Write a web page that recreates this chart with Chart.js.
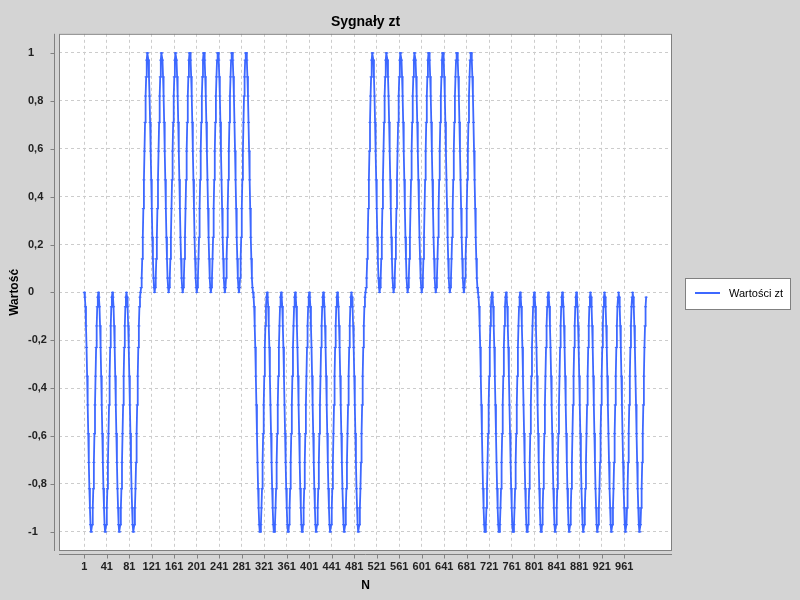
<!DOCTYPE html>
<html lang="pl">
<head>
<meta charset="utf-8">
<title>Sygnały zt</title>
<script src="https://cdn.jsdelivr.net/npm/chart.js@4.4.1/dist/chart.umd.min.js"></script>
<style>
  html, body { margin: 0; padding: 0; background: #d4d4d4; }
  canvas { display: block; }
</style>
</head>
<body>
<canvas id="wykres" width="800" height="600"></canvas>
<script>
// Wartości sygnału zt (1000 próbek, po 25 na jeden "garb")
const wartosci = [
  // N 1-100
  0, -0.02, -0.06, -0.14, -0.23, -0.35, -0.47, -0.59, -0.71, -0.82, -0.9, -0.97, -1, -1, -0.97, -0.9, -0.82, -0.71, -0.59, -0.47, -0.35, -0.23, -0.14, -0.06, -0.02,
  0, -0.02, -0.06, -0.14, -0.23, -0.35, -0.47, -0.59, -0.71, -0.82, -0.9, -0.97, -1, -1, -0.97, -0.9, -0.82, -0.71, -0.59, -0.47, -0.35, -0.23, -0.14, -0.06, -0.02,
  0, -0.02, -0.06, -0.14, -0.23, -0.35, -0.47, -0.59, -0.71, -0.82, -0.9, -0.97, -1, -1, -0.97, -0.9, -0.82, -0.71, -0.59, -0.47, -0.35, -0.23, -0.14, -0.06, -0.02,
  0, -0.02, -0.06, -0.14, -0.23, -0.35, -0.47, -0.59, -0.71, -0.82, -0.9, -0.97, -1, -1, -0.97, -0.9, -0.82, -0.71, -0.59, -0.47, -0.35, -0.23, -0.14, -0.06, -0.02,
  // N 101-300
  0, 0.02, 0.06, 0.14, 0.23, 0.35, 0.47, 0.59, 0.71, 0.82, 0.9, 0.97, 1, 1, 0.97, 0.9, 0.82, 0.71, 0.59, 0.47, 0.35, 0.23, 0.14, 0.06, 0.02,
  0, 0.02, 0.06, 0.14, 0.23, 0.35, 0.47, 0.59, 0.71, 0.82, 0.9, 0.97, 1, 1, 0.97, 0.9, 0.82, 0.71, 0.59, 0.47, 0.35, 0.23, 0.14, 0.06, 0.02,
  0, 0.02, 0.06, 0.14, 0.23, 0.35, 0.47, 0.59, 0.71, 0.82, 0.9, 0.97, 1, 1, 0.97, 0.9, 0.82, 0.71, 0.59, 0.47, 0.35, 0.23, 0.14, 0.06, 0.02,
  0, 0.02, 0.06, 0.14, 0.23, 0.35, 0.47, 0.59, 0.71, 0.82, 0.9, 0.97, 1, 1, 0.97, 0.9, 0.82, 0.71, 0.59, 0.47, 0.35, 0.23, 0.14, 0.06, 0.02,
  0, 0.02, 0.06, 0.14, 0.23, 0.35, 0.47, 0.59, 0.71, 0.82, 0.9, 0.97, 1, 1, 0.97, 0.9, 0.82, 0.71, 0.59, 0.47, 0.35, 0.23, 0.14, 0.06, 0.02,
  0, 0.02, 0.06, 0.14, 0.23, 0.35, 0.47, 0.59, 0.71, 0.82, 0.9, 0.97, 1, 1, 0.97, 0.9, 0.82, 0.71, 0.59, 0.47, 0.35, 0.23, 0.14, 0.06, 0.02,
  0, 0.02, 0.06, 0.14, 0.23, 0.35, 0.47, 0.59, 0.71, 0.82, 0.9, 0.97, 1, 1, 0.97, 0.9, 0.82, 0.71, 0.59, 0.47, 0.35, 0.23, 0.14, 0.06, 0.02,
  0, 0.02, 0.06, 0.14, 0.23, 0.35, 0.47, 0.59, 0.71, 0.82, 0.9, 0.97, 1, 1, 0.97, 0.9, 0.82, 0.71, 0.59, 0.47, 0.35, 0.23, 0.14, 0.06, 0.02,
  // N 301-500
  0, -0.02, -0.06, -0.14, -0.23, -0.35, -0.47, -0.59, -0.71, -0.82, -0.9, -0.97, -1, -1, -0.97, -0.9, -0.82, -0.71, -0.59, -0.47, -0.35, -0.23, -0.14, -0.06, -0.02,
  0, -0.02, -0.06, -0.14, -0.23, -0.35, -0.47, -0.59, -0.71, -0.82, -0.9, -0.97, -1, -1, -0.97, -0.9, -0.82, -0.71, -0.59, -0.47, -0.35, -0.23, -0.14, -0.06, -0.02,
  0, -0.02, -0.06, -0.14, -0.23, -0.35, -0.47, -0.59, -0.71, -0.82, -0.9, -0.97, -1, -1, -0.97, -0.9, -0.82, -0.71, -0.59, -0.47, -0.35, -0.23, -0.14, -0.06, -0.02,
  0, -0.02, -0.06, -0.14, -0.23, -0.35, -0.47, -0.59, -0.71, -0.82, -0.9, -0.97, -1, -1, -0.97, -0.9, -0.82, -0.71, -0.59, -0.47, -0.35, -0.23, -0.14, -0.06, -0.02,
  0, -0.02, -0.06, -0.14, -0.23, -0.35, -0.47, -0.59, -0.71, -0.82, -0.9, -0.97, -1, -1, -0.97, -0.9, -0.82, -0.71, -0.59, -0.47, -0.35, -0.23, -0.14, -0.06, -0.02,
  0, -0.02, -0.06, -0.14, -0.23, -0.35, -0.47, -0.59, -0.71, -0.82, -0.9, -0.97, -1, -1, -0.97, -0.9, -0.82, -0.71, -0.59, -0.47, -0.35, -0.23, -0.14, -0.06, -0.02,
  0, -0.02, -0.06, -0.14, -0.23, -0.35, -0.47, -0.59, -0.71, -0.82, -0.9, -0.97, -1, -1, -0.97, -0.9, -0.82, -0.71, -0.59, -0.47, -0.35, -0.23, -0.14, -0.06, -0.02,
  0, -0.02, -0.06, -0.14, -0.23, -0.35, -0.47, -0.59, -0.71, -0.82, -0.9, -0.97, -1, -1, -0.97, -0.9, -0.82, -0.71, -0.59, -0.47, -0.35, -0.23, -0.14, -0.06, -0.02,
  // N 501-700
  0, 0.02, 0.06, 0.14, 0.23, 0.35, 0.47, 0.59, 0.71, 0.82, 0.9, 0.97, 1, 1, 0.97, 0.9, 0.82, 0.71, 0.59, 0.47, 0.35, 0.23, 0.14, 0.06, 0.02,
  0, 0.02, 0.06, 0.14, 0.23, 0.35, 0.47, 0.59, 0.71, 0.82, 0.9, 0.97, 1, 1, 0.97, 0.9, 0.82, 0.71, 0.59, 0.47, 0.35, 0.23, 0.14, 0.06, 0.02,
  0, 0.02, 0.06, 0.14, 0.23, 0.35, 0.47, 0.59, 0.71, 0.82, 0.9, 0.97, 1, 1, 0.97, 0.9, 0.82, 0.71, 0.59, 0.47, 0.35, 0.23, 0.14, 0.06, 0.02,
  0, 0.02, 0.06, 0.14, 0.23, 0.35, 0.47, 0.59, 0.71, 0.82, 0.9, 0.97, 1, 1, 0.97, 0.9, 0.82, 0.71, 0.59, 0.47, 0.35, 0.23, 0.14, 0.06, 0.02,
  0, 0.02, 0.06, 0.14, 0.23, 0.35, 0.47, 0.59, 0.71, 0.82, 0.9, 0.97, 1, 1, 0.97, 0.9, 0.82, 0.71, 0.59, 0.47, 0.35, 0.23, 0.14, 0.06, 0.02,
  0, 0.02, 0.06, 0.14, 0.23, 0.35, 0.47, 0.59, 0.71, 0.82, 0.9, 0.97, 1, 1, 0.97, 0.9, 0.82, 0.71, 0.59, 0.47, 0.35, 0.23, 0.14, 0.06, 0.02,
  0, 0.02, 0.06, 0.14, 0.23, 0.35, 0.47, 0.59, 0.71, 0.82, 0.9, 0.97, 1, 1, 0.97, 0.9, 0.82, 0.71, 0.59, 0.47, 0.35, 0.23, 0.14, 0.06, 0.02,
  0, 0.02, 0.06, 0.14, 0.23, 0.35, 0.47, 0.59, 0.71, 0.82, 0.9, 0.97, 1, 1, 0.97, 0.9, 0.82, 0.71, 0.59, 0.47, 0.35, 0.23, 0.14, 0.06, 0.02,
  // N 701-1000
  0, -0.02, -0.06, -0.14, -0.23, -0.35, -0.47, -0.59, -0.71, -0.82, -0.9, -0.97, -1, -1, -0.97, -0.9, -0.82, -0.71, -0.59, -0.47, -0.35, -0.23, -0.14, -0.06, -0.02,
  0, -0.02, -0.06, -0.14, -0.23, -0.35, -0.47, -0.59, -0.71, -0.82, -0.9, -0.97, -1, -1, -0.97, -0.9, -0.82, -0.71, -0.59, -0.47, -0.35, -0.23, -0.14, -0.06, -0.02,
  0, -0.02, -0.06, -0.14, -0.23, -0.35, -0.47, -0.59, -0.71, -0.82, -0.9, -0.97, -1, -1, -0.97, -0.9, -0.82, -0.71, -0.59, -0.47, -0.35, -0.23, -0.14, -0.06, -0.02,
  0, -0.02, -0.06, -0.14, -0.23, -0.35, -0.47, -0.59, -0.71, -0.82, -0.9, -0.97, -1, -1, -0.97, -0.9, -0.82, -0.71, -0.59, -0.47, -0.35, -0.23, -0.14, -0.06, -0.02,
  0, -0.02, -0.06, -0.14, -0.23, -0.35, -0.47, -0.59, -0.71, -0.82, -0.9, -0.97, -1, -1, -0.97, -0.9, -0.82, -0.71, -0.59, -0.47, -0.35, -0.23, -0.14, -0.06, -0.02,
  0, -0.02, -0.06, -0.14, -0.23, -0.35, -0.47, -0.59, -0.71, -0.82, -0.9, -0.97, -1, -1, -0.97, -0.9, -0.82, -0.71, -0.59, -0.47, -0.35, -0.23, -0.14, -0.06, -0.02,
  0, -0.02, -0.06, -0.14, -0.23, -0.35, -0.47, -0.59, -0.71, -0.82, -0.9, -0.97, -1, -1, -0.97, -0.9, -0.82, -0.71, -0.59, -0.47, -0.35, -0.23, -0.14, -0.06, -0.02,
  0, -0.02, -0.06, -0.14, -0.23, -0.35, -0.47, -0.59, -0.71, -0.82, -0.9, -0.97, -1, -1, -0.97, -0.9, -0.82, -0.71, -0.59, -0.47, -0.35, -0.23, -0.14, -0.06, -0.02,
  0, -0.02, -0.06, -0.14, -0.23, -0.35, -0.47, -0.59, -0.71, -0.82, -0.9, -0.97, -1, -1, -0.97, -0.9, -0.82, -0.71, -0.59, -0.47, -0.35, -0.23, -0.14, -0.06, -0.02,
  0, -0.02, -0.06, -0.14, -0.23, -0.35, -0.47, -0.59, -0.71, -0.82, -0.9, -0.97, -1, -1, -0.97, -0.9, -0.82, -0.71, -0.59, -0.47, -0.35, -0.23, -0.14, -0.06, -0.02,
  0, -0.02, -0.06, -0.14, -0.23, -0.35, -0.47, -0.59, -0.71, -0.82, -0.9, -0.97, -1, -1, -0.97, -0.9, -0.82, -0.71, -0.59, -0.47, -0.35, -0.23, -0.14, -0.06, -0.02,
  0, -0.02, -0.06, -0.14, -0.23, -0.35, -0.47, -0.59, -0.71, -0.82, -0.9, -0.97, -1, -1, -0.97, -0.9, -0.82, -0.71, -0.59, -0.47, -0.35, -0.23, -0.14, -0.06, -0.02
];

// Numery próbek N = 1..1000
const numery = wartosci.map((_, i) => i + 1);

// Etykiety osi
const etykietyX = [1, 41, 81, 121, 161, 201, 241, 281, 321, 361, 401, 441, 481,
                   521, 561, 601, 641, 681, 721, 761, 801, 841, 881, 921, 961];
const etykietyY = [-1, -0.8, -0.6, -0.4, -0.2, 0, 0.2, 0.4, 0.6, 0.8, 1];

const nazwaSerii = 'Wartości zt';
const kolorSerii = '#3d68ff';
const czcionka = '"Liberation Sans", Arial, sans-serif';

Chart.defaults.font.family = czcionka;

// Tło, ramka wykresu, osie przesunięte od ramki, tytuły osi i legenda
const ramka = {
  id: 'ramka',
  beforeDraw(chart) {
    const { ctx, chartArea: a } = chart;
    ctx.save();
    ctx.fillStyle = '#d4d4d4';
    ctx.fillRect(0, 0, chart.width, chart.height);
    ctx.fillStyle = '#ffffff';
    ctx.fillRect(a.left, a.top, a.right - a.left, a.bottom - a.top);
    ctx.restore();
  },
  afterDraw(chart) {
    const { ctx, chartArea: a, scales } = chart;
    ctx.save();
    ctx.strokeStyle = '#808080';
    ctx.lineWidth = 1;
    ctx.strokeRect(a.left + 0.5, a.top + 0.5, a.right - a.left - 1, a.bottom - a.top - 1);

    ctx.beginPath();
    // oś Y
    const xOsi = Math.round(a.left) - 4.5;
    ctx.moveTo(xOsi, a.top);
    ctx.lineTo(xOsi, a.bottom);
    etykietyY.forEach(function (v) {
      const y = Math.round(scales.y.getPixelForValue(v)) + 0.5;
      ctx.moveTo(xOsi - 4, y);
      ctx.lineTo(xOsi, y);
    });
    // oś X
    const yOsi = Math.round(a.bottom) + 3.5;
    ctx.moveTo(a.left, yOsi);
    ctx.lineTo(a.right, yOsi);
    etykietyX.forEach(function (v) {
      const x = Math.round(scales.x.getPixelForValue(v)) + 0.5;
      ctx.moveTo(x, yOsi);
      ctx.lineTo(x, yOsi + 4);
    });
    ctx.stroke();

    // tytuły osi
    ctx.fillStyle = '#000000';
    ctx.font = 'bold 12px ' + czcionka;
    ctx.textAlign = 'center';
    ctx.textBaseline = 'middle';
    ctx.fillText('N', (a.left + a.right) / 2, 586);
    ctx.save();
    ctx.translate(15, (a.top + a.bottom) / 2);
    ctx.rotate(-Math.PI / 2);
    ctx.fillText('Wartość', 0, 0);
    ctx.restore();

    // legenda
    const lx = 685.5, ly = 278.5, lw = 105, lh = 31;
    ctx.fillStyle = '#ffffff';
    ctx.fillRect(lx, ly, lw, lh);
    ctx.strokeStyle = '#808080';
    ctx.strokeRect(lx, ly, lw, lh);
    ctx.strokeStyle = kolorSerii;
    ctx.lineWidth = 2;
    ctx.beginPath();
    ctx.moveTo(695, 293);
    ctx.lineTo(720, 293);
    ctx.stroke();
    ctx.fillStyle = '#000000';
    ctx.font = '11px ' + czcionka;
    ctx.textAlign = 'left';
    ctx.fillText(nazwaSerii, 729, 293.5);
    ctx.restore();
  }
};

new Chart(document.getElementById('wykres'), {
  type: 'line',
  data: {
    datasets: [{
      label: nazwaSerii,
      data: numery.map((n, i) => ({ x: n, y: wartosci[i] })),
      borderColor: kolorSerii,
      backgroundColor: kolorSerii,
      borderWidth: 1.8,
      borderJoinStyle: 'round',
      borderCapStyle: 'round',
      tension: 0,
      pointStyle: 'line',
      pointRadius: 1.5,
      pointBorderWidth: 1,
      pointBorderColor: kolorSerii,
      pointHoverRadius: 0,
      fill: false
    }]
  },
  options: {
    responsive: false,
    animation: false,
    events: [],
    layout: { padding: { left: 28, right: 128, top: 0, bottom: 0 } },
    plugins: {
      legend: { display: false },
      tooltip: { enabled: false },
      title: {
        display: true,
        text: 'Sygnały zt',
        fullSize: false,
        color: '#000000',
        font: { size: 14, weight: 'bold' },
        padding: { top: 14, bottom: 3 }
      }
    },
    scales: {
      x: {
        type: 'linear',
        min: -44,
        max: 1046,
        afterBuildTicks(scale) {
          scale.ticks = etykietyX.map(v => ({ value: v }));
        },
        afterFit(scale) { scale.height = 49; },
        ticks: {
          autoSkip: false,
          maxRotation: 0,
          padding: 9,
          color: '#222222',
          font: { size: 11, weight: 'bold' },
          callback: v => String(v)
        },
        grid: { color: '#cccccc', lineWidth: 1, drawTicks: false },
        border: { display: false, dash: [3, 3] }
      },
      y: {
        min: -1.08,
        max: 1.08,
        afterBuildTicks(scale) {
          scale.ticks = etykietyY.map(v => ({ value: v }));
        },
        afterFit(scale) { scale.width = 31; },
        ticks: {
          crossAlign: 'far',
          color: '#222222',
          font: { size: 11, weight: 'bold' },
          callback: v => String(v).replace('.', ',')
        },
        grid: { color: '#cccccc', lineWidth: 1, drawTicks: false },
        border: { display: false, dash: [3, 3] }
      }
    }
  },
  plugins: [ramka]
});
</script>
</body>
</html>
